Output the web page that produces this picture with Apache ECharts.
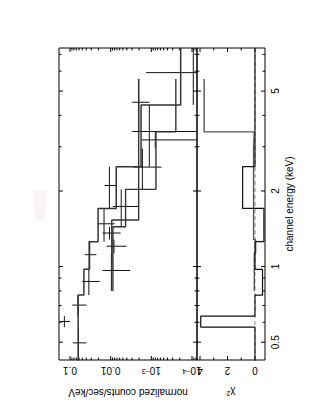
<!DOCTYPE html>
<html><head><meta charset="utf-8">
<script src="https://cdn.jsdelivr.net/npm/echarts@6/dist/echarts.min.js"></script>
<style>html,body{margin:0;padding:0;background:#fff;}#c{width:316px;height:409px;}</style>
</head><body><div id="c"></div>
<script>
// ---- axis ranges ----
const countMin = 7.54e-5, countMax = 0.1864;
const eMin = 0.4246, eMax = 7.42;
const chiMin = -0.73, chiMax = 4.22;

// ---- tick values / labels ----
const countTickVals = [0.1, 0.01, 0.001, 0.0001];
const countTickLabels = ['0.1', '0.01', '10{sup|\u22123}', '10{sup|\u22124}'];
const countMinorTicks = [8e-5, 9e-5, 2e-4, 3e-4, 4e-4, 5e-4, 6e-4, 7e-4, 8e-4, 9e-4,
  2e-3, 3e-3, 4e-3, 5e-3, 6e-3, 7e-3, 8e-3, 9e-3, 0.02, 0.03, 0.04, 0.05, 0.06, 0.07, 0.08, 0.09];
const energyTickVals = [0.5, 1, 2, 5];
const energyTickLabels = ['0.5', '1', '2', '5'];
const energyMinorTicks = [0.6, 0.7, 0.8, 0.9, 3, 4, 6, 7];
const chiTickVals = [0, 2, 4];
const chiTickLabels = ['0', '2', '4'];
const chiMinorTicks = [1, 3];

// ---- dataset 1 ----
const e1Lo = [0.42, 0.574, 0.635, 0.77, 0.975, 1.256, 1.705, 2.5, 4.4];
const e1Hi = [0.574, 0.635, 0.77, 0.975, 1.256, 1.705, 2.5, 4.4, 7.44];
const cnt1 = [0.062, 0.1375, 0.0636, 0.0344, 0.0327, 0.01455, 0.01075, 0.00112, 0.000093];
const err1 = [0.0227, 0.0375, 0.0245, 0.0158, 0.0103, 0.0066, 0.00345, 0.00185, 0.00125];
const mod1 = [0.063, 0.063, 0.063, 0.0455, 0.0338, 0.0204, 0.0073, 0.00179, 0.00019];
const chi1 = [0.0, 3.95, 0.0, -0.55, 0.0, -0.65, 0.9, 0.0, 0.0];

// ---- dataset 2 ----
const e2Lo = [0.80, 1.13, 1.28, 1.44, 2.03, 2.95, 3.44];
const e2Hi = [1.13, 1.28, 1.44, 2.03, 2.95, 3.44, 5.585];
const cnt2 = [0.0096, 0.0083, 0.0107, 0.0055, 0.00166, 0.0008, 0.00204];
const err2 = [0.0063, 0.0042, 0.005, 0.0034, 0.0011, 0.0009, 0.00093];
const mod2 = [0.0088, 0.0088, 0.0088, 0.0043, 0.00077, 0.00077, 0.00025];
const chi2 = [0.05, -0.05, 0.1, 0.1, 0.1, 0.05, 3.7];

// ---- dataset 3 (coarse-binned model) ----
const e3Lo = [0.962, 1.532];
const e3Hi = [1.532, 5.585];
const mod3 = [0.0094, 0.00205];

const FONT = 'Liberation Sans, Arial, Helvetica, sans-serif';
const INK = '#111', MODEL = '#333';

function ln(x1, y1, x2, y2, color) {
  return {type: 'line', shape: {x1: x1, y1: y1, x2: x2, y2: y2}, style: {stroke: color || '#000', lineWidth: 1}};
}
function crossRender(color) {
  return function (params, api) {
    const c = api.value(0), lo = api.value(1), hi = api.value(2), err = api.value(3);
    const mid = (lo + hi) / 2;
    const a = api.coord([c, Math.max(lo, eMin)]), b = api.coord([c, Math.min(hi, eMax)]);
    const up = Math.min(c + err, countMax), dn = (c - err) > countMin ? c - err : countMin;
    const l = api.coord([up, mid]), r = api.coord([dn, mid]);
    return {type: 'group', children: [ln(a[0], a[1], b[0], b[1], color), ln(l[0], l[1], r[0], r[1], color)]};
  };
}
function stepData(lo, hi, v) {
  const out = [];
  lo.forEach(function (l, i) { out.push([v[i], l]); out.push([v[i], hi[i]]); });
  return out;
}
function stepSeries(xi, data, color, w) {
  return {type: 'line', xAxisIndex: xi, yAxisIndex: xi, data: data, showSymbol: false, clip: true,
    lineStyle: {color: color, width: w}, silent: true};
}
// upside-down tick label below the bottom frame
function flippedLabel(labels) {
  return function (params, api) {
    const p = api.coord([api.value(0), eMin]);
    return {type: 'text', x: p[0], y: p[1] + 5, rotation: Math.PI,
      style: {text: labels[params.dataIndex], align: 'center', verticalAlign: 'bottom',
        fontSize: 10, fontFamily: FONT, fill: '#000',
        rich: {sup: {fontSize: 7, fontFamily: FONT, verticalAlign: 'top', fill: '#000'}}}};
  };
}

const series = [];
series.push(stepSeries(0, stepData(e3Lo, e3Hi, mod3), MODEL, 1.4));
series.push(stepSeries(0, stepData(e2Lo, e2Hi, mod2), MODEL, 1.4));
series.push(stepSeries(0, stepData(e1Lo, e1Hi, mod1), MODEL, 1.5));
series.push({type: 'custom', xAxisIndex: 0, yAxisIndex: 0, renderItem: crossRender(INK), silent: true,
  data: cnt1.map(function (c, i) { return [c, e1Lo[i], e1Hi[i], err1[i]]; }), encode: {x: 0, y: [1, 2]}});
series.push({type: 'custom', xAxisIndex: 0, yAxisIndex: 0, renderItem: crossRender(INK), silent: true,
  data: cnt2.map(function (c, i) { return [c, e2Lo[i], e2Hi[i], err2[i]]; }), encode: {x: 0, y: [1, 2]}});
series.push({type: 'line', xAxisIndex: 1, yAxisIndex: 1, data: [[0, eMin], [0, eMax]], showSymbol: false,
  lineStyle: {color: '#888', width: 1, type: [4, 3]}, silent: true});
series.push(stepSeries(1, stepData(e2Lo, e2Hi, chi2), '#555', 1.4));
series.push(stepSeries(1, stepData(e1Lo, e1Hi, chi1), INK, 1.2));

// ticks
series.push({type: 'custom', xAxisIndex: 0, yAxisIndex: 0, silent: true,
  data: countTickVals.map(function (v) { return [v, 2]; }).concat(countMinorTicks.map(function (v) { return [v, 1]; })),
  renderItem: function (params, api) {
    const v = api.value(0), L = api.value(1) > 1.5 ? 4 : 2.5;
    const b = api.coord([v, eMin]), t = api.coord([v, eMax]);
    return {type: 'group', children: [ln(b[0], b[1], b[0], b[1] - L), ln(t[0], t[1], t[0], t[1] + L)]};
  }});
series.push({type: 'custom', xAxisIndex: 0, yAxisIndex: 0, silent: true,
  data: energyTickVals.map(function (v) { return [2, v]; }).concat(energyMinorTicks.map(function (v) { return [1, v]; })),
  renderItem: function (params, api) {
    const e = api.value(1), L = api.value(0) > 1.5 ? 4 : 2.5;
    const l = api.coord([countMax, e]), r = api.coord([countMin, e]);
    return {type: 'group', children: [ln(l[0], l[1], l[0] + L, l[1]), ln(r[0], r[1], r[0] - L, r[1])]};
  }});
series.push({type: 'custom', xAxisIndex: 1, yAxisIndex: 1, silent: true,
  data: energyTickVals.map(function (v) { return [2, v]; }).concat(energyMinorTicks.map(function (v) { return [1, v]; })),
  renderItem: function (params, api) {
    const e = api.value(1), L = api.value(0) > 1.5 ? 4 : 2.5;
    const l = api.coord([chiMax, e]), r = api.coord([chiMin, e]);
    return {type: 'group', children: [ln(l[0], l[1], l[0] + L, l[1]), ln(r[0], r[1], r[0] - L, r[1])]};
  }});
series.push({type: 'custom', xAxisIndex: 1, yAxisIndex: 1, silent: true,
  data: chiTickVals.map(function (v) { return [v, 2]; }).concat(chiMinorTicks.map(function (v) { return [v, 1]; })),
  renderItem: function (params, api) {
    const v = api.value(0), L = api.value(1) > 1.5 ? 4 : 2.5;
    const b = api.coord([v, eMin]), t = api.coord([v, eMax]);
    return {type: 'group', children: [ln(b[0], b[1], b[0], b[1] - L), ln(t[0], t[1], t[0], t[1] + L)]};
  }});
// tick labels
series.push({type: 'custom', xAxisIndex: 0, yAxisIndex: 0, silent: true,
  data: countTickVals.map(function (v) { return [v, 1]; }), renderItem: flippedLabel(countTickLabels)});
series.push({type: 'custom', xAxisIndex: 1, yAxisIndex: 1, silent: true,
  data: chiTickVals.map(function (v) { return [v, 1]; }), renderItem: flippedLabel(chiTickLabels)});
series.push({type: 'custom', xAxisIndex: 1, yAxisIndex: 1, silent: true,
  data: energyTickVals.map(function (v) { return [1, v]; }),
  renderItem: function (params, api) {
    const p = api.coord([chiMin, api.value(1)]);
    return {type: 'text', x: p[0] + 5, y: p[1], rotation: Math.PI / 2,
      style: {text: energyTickLabels[params.dataIndex], align: 'center', verticalAlign: 'top',
        fontSize: 10, fontFamily: FONT, fill: '#000'}};
  }});

const option = {
  animation: false,
  backgroundColor: '#fff',
  graphic: [{type: 'rect', shape: {x: 34, y: 190, width: 12, height: 29}, style: {fill: '#fcf4f4'}, silent: true}],
  grid: [
    {left: 59, top: 48, width: 138, height: 312, show: true, borderColor: '#000', borderWidth: 1, outerBoundsMode: 'none', containLabel: false},
    {left: 197, top: 48, width: 68, height: 312, show: true, borderColor: '#000', borderWidth: 1, outerBoundsMode: 'none', containLabel: false}
  ],
  xAxis: [
    {type: 'log', gridIndex: 0, min: countMin, max: countMax, inverse: true, position: 'bottom',
      axisLine: {show: false}, axisTick: {show: false}, splitLine: {show: false}, axisLabel: {show: false},
      name: 'normalized counts/sec/keV', nameLocation: 'middle', nameRotate: 180, nameGap: 27, nameMoveOverlap: false,
      nameTextStyle: {fontSize: 10, fontFamily: FONT, color: '#000'}},
    {type: 'value', gridIndex: 1, min: chiMin, max: chiMax, inverse: true, position: 'bottom',
      axisLine: {show: false}, axisTick: {show: false}, splitLine: {show: false}, axisLabel: {show: false},
      name: '\u03c7{sup|2}', nameLocation: 'middle', nameRotate: 180, nameGap: 27, nameMoveOverlap: false,
      nameTextStyle: {fontSize: 10, fontFamily: FONT, color: '#000', rich: {sup: {fontSize: 7, verticalAlign: 'top'}}}}
  ],
  yAxis: [
    {type: 'log', gridIndex: 0, min: eMin, max: eMax, axisLine: {show: false}, axisTick: {show: false},
      axisLabel: {show: false}, splitLine: {show: false}},
    {type: 'log', gridIndex: 1, min: eMin, max: eMax, position: 'right', axisLine: {show: false}, axisTick: {show: false},
      axisLabel: {show: false}, splitLine: {show: false},
      name: 'channel energy (keV)', nameLocation: 'middle', nameRotate: 90, nameGap: 19, nameMoveOverlap: false,
      nameTextStyle: {fontSize: 10, fontFamily: FONT, color: '#000'}}
  ],
  series: series
};
const chart = echarts.init(document.getElementById('c'), null, {renderer: 'svg'});
chart.setOption(option);
</script></body></html>
